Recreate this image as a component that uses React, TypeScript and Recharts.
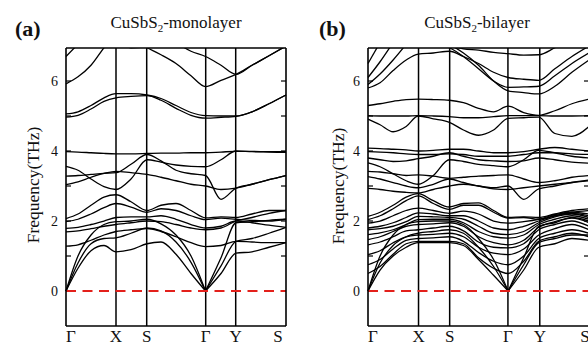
import React from 'react';
import { LineChart, Line, XAxis, YAxis, ReferenceLine } from 'recharts';

const N = null;

// Sampling positions along the Γ–X–S–Γ–Y–S path (one unit ≈ one pixel of path length)
const kGrid = [0, 12, 25, 38, 50, 65, 81, 95, 110, 125, 139.5, 155, 170, 186, 203, 220];

// High-symmetry points
const pathLabels = ['Γ', 'X', 'S', 'Γ', 'Y', 'S'];
const monolayerPathK = [0, 50, 80.7, 139.7, 169.7, 220];
const bilayerPathK = [0, 50.3, 81.3, 139.3, 171, 220];

// Frequency axis (THz)
const freqTicks = [0, 1, 2, 3, 4, 5, 6];
const freqBottom = -1;
const freqTop = 6.943;

// Phonon branches of the monolayer, sampled on kGrid (THz)
const monolayerBands: (number | null)[][] = [
  [0, 0.65, 1.15, 1.3, 1.12, 1.18, 1.35, 1.4, 1.05, 0.5, 0, 0.5, 1.08, 1.12, 1.25, 1.38],
  [0, 0.8, 1.35, 1.5, 1.52, 1.65, 1.8, 1.72, 1.4, 0.82, 0, 0.72, 1.42, 1.5, 1.65, 1.82],
  [0, 1.0, 1.6, 1.9, 1.98, 2.0, 2.05, 1.92, 1.6, 1.0, 0, 0.95, 1.95, 1.98, 2.02, 2.05],
  [1.28, 1.32, 1.45, 1.6, 1.7, 1.75, 1.78, 1.7, 1.55, 1.38, 1.27, 1.3, 1.42, 1.4, 1.38, 1.38],
  [1.69, 1.72, 1.78, 1.85, 1.9, 1.95, 2.0, 1.98, 1.9, 1.8, 1.75, 1.8, 2.0, 2.1, 2.22, 2.3],
  [1.79, 1.82, 1.9, 2.0, 2.1, 2.12, 2.12, 2.15, 2.05, 1.9, 1.8, 1.85, 2.0, 1.95, 1.88, 1.82],
  [1.98, 2.05, 2.2, 2.38, 2.5, 2.4, 2.25, 2.35, 2.3, 2.15, 2.04, 2.08, 2.05, 2.02, 2.0, 2.05],
  [2.07, 2.2, 2.45, 2.68, 2.75, 2.55, 2.3, 2.45, 2.5, 2.3, 2.09, 2.12, 2.1, 2.2, 2.3, 2.3],
  [3.04, 3.12, 3.25, 3.36, 3.42, 3.38, 3.33, 3.25, 3.15, 3.05, 3.0, 2.9, 2.94, 3.05, 3.18, 3.3],
  [3.28, 3.3, 3.33, 3.36, 3.38, 3.62, 3.9, 3.72, 3.45, 3.35, 3.3, 2.62, 2.94, 3.05, 3.18, 3.3],
  [3.56, 3.45, 3.2, 2.98, 2.9, 3.2, 3.75, 3.68, 3.6, 3.56, 3.55, 3.75, 4.0, 3.98, 3.97, 3.96],
  [3.98, 3.97, 3.95, 3.93, 3.92, 3.92, 3.93, 3.94, 3.94, 3.95, 3.95, 3.97, 3.99, 3.99, 3.98, 3.98],
  [4.97, 5.02, 5.2, 5.42, 5.52, 5.56, 5.58, 5.45, 5.22, 5.02, 4.94, 4.96, 4.99, 5.12, 5.35, 5.6],
  [5.06, 5.12, 5.3, 5.52, 5.64, 5.64, 5.6, 5.5, 5.3, 5.1, 5.01, 5.0, 5.0, 5.12, 5.35, 5.6],
  [5.92, 6.12, 6.45, 6.95, 7.35, N, N, N, N, N, N, N, N, N, N, N],
  [6.7, 7.05, 7.4, N, N, N, N, N, N, N, N, N, N, N, N, N],
  [N, N, N, N, 7.3, 6.95, 6.98, 7.3, N, N, N, N, N, N, N, N],
  [N, N, N, N, N, 7.2, 6.95, 6.75, 6.5, 6.15, 5.84, 6.02, 6.19, 6.45, 6.72, 7.0],
  [N, N, N, N, N, N, N, N, 7.1, 6.85, 6.7, 6.45, 6.19, 6.45, 6.72, 7.0],
];

// Phonon branches of the bilayer, sampled on kGrid (THz)
const bilayerBands: (number | null)[][] = [
  [0, 0.6, 1.0, 1.25, 1.38, 1.38, 1.38, 1.3, 0.9, 0.45, 0, 0.6, 1.25, 1.35, 1.5, 1.45],
  [0, 0.8, 1.3, 1.55, 1.65, 1.7, 1.75, 1.65, 1.25, 0.7, 0, 0.75, 1.38, 1.5, 1.6, 1.6],
  [0, 1.0, 1.6, 1.9, 1.98, 2.0, 2.0, 1.9, 1.5, 0.9, 0, 0.95, 1.85, 1.95, 2.1, 2.0],
  [0.5, 0.7, 1.05, 1.35, 1.42, 1.42, 1.42, 1.35, 0.95, 0.65, 0.5, 0.85, 1.42, 1.55, 1.65, 1.55],
  [0.75, 0.9, 1.2, 1.45, 1.5, 1.52, 1.55, 1.42, 1.1, 0.85, 0.75, 1.0, 1.5, 1.65, 1.75, 1.65],
  [1.04, 1.15, 1.38, 1.55, 1.6, 1.62, 1.65, 1.55, 1.25, 1.08, 1.04, 1.2, 1.6, 1.78, 1.9, 1.75],
  [1.32, 1.4, 1.55, 1.72, 1.75, 1.8, 1.85, 1.72, 1.4, 1.25, 1.23, 1.35, 1.75, 1.9, 2.0, 1.85],
  [1.47, 1.55, 1.7, 1.85, 1.9, 1.92, 1.95, 1.85, 1.55, 1.38, 1.32, 1.45, 1.82, 1.98, 2.08, 1.95],
  [1.61, 1.66, 1.75, 1.9, 2.04, 2.05, 2.05, 1.95, 1.7, 1.55, 1.51, 1.6, 1.9, 2.05, 2.15, 2.05],
  [1.75, 1.78, 1.85, 1.98, 2.13, 2.12, 2.1, 2.05, 1.85, 1.65, 1.61, 1.7, 1.95, 2.12, 2.2, 2.1],
  [1.8, 1.85, 1.95, 2.1, 2.23, 2.2, 2.15, 2.15, 2.0, 1.8, 1.75, 1.85, 2.0, 2.15, 2.22, 2.15],
  [1.94, 2.0, 2.15, 2.3, 2.37, 2.3, 2.22, 2.28, 2.2, 2.0, 1.94, 1.98, 2.05, 2.18, 2.25, 2.2],
  [2.04, 2.15, 2.35, 2.58, 2.72, 2.5, 2.33, 2.45, 2.45, 2.25, 2.08, 2.1, 2.05, 2.15, 2.25, 2.3],
  [2.13, 2.25, 2.45, 2.68, 2.78, 2.58, 2.4, 2.5, 2.52, 2.3, 2.1, 2.12, 2.1, 2.2, 2.3, 2.35],
  [2.93, 2.9, 2.85, 2.82, 2.8, 2.9, 3.0, 3.05, 3.0, 2.92, 2.9, 2.95, 3.0, 3.05, 3.1, 3.15],
  [3.27, 3.2, 3.1, 3.0, 2.95, 3.05, 3.2, 3.1, 3.0, 2.95, 3.0, 2.62, 2.92, 3.0, 3.1, 3.17],
  [3.42, 3.4, 3.35, 3.3, 3.32, 3.28, 3.22, 3.25, 3.28, 3.3, 3.32, 3.2, 3.1, 3.15, 3.25, 3.3],
  [3.66, 3.55, 3.35, 3.15, 3.05, 3.3, 3.75, 3.7, 3.62, 3.58, 3.55, 3.75, 4.02, 3.95, 3.85, 3.8],
  [3.8, 3.75, 3.7, 3.72, 3.78, 3.85, 3.95, 3.85, 3.75, 3.72, 3.7, 3.72, 3.8, 3.75, 3.68, 3.65],
  [3.98, 3.97, 3.95, 3.92, 3.9, 3.9, 3.92, 3.9, 3.85, 3.85, 3.85, 3.9, 3.95, 3.95, 3.92, 3.9],
  [4.08, 4.07, 4.05, 4.03, 4.0, 4.02, 4.05, 4.05, 4.0, 3.95, 3.95, 3.98, 4.05, 4.1, 4.05, 4.0],
  [4.91, 4.75, 4.55, 4.7, 5.0, 4.92, 4.82, 4.6, 4.45, 4.6, 4.93, 4.95, 4.97, 4.5, 4.42, 4.7],
  [5.01, 5.0, 5.0, 5.0, 5.01, 5.0, 4.98, 4.95, 4.95, 4.98, 5.01, 5.01, 5.01, 5.0, 5.0, 5.01],
  [5.3, 5.35, 5.42, 5.47, 5.48, 5.47, 5.45, 5.38, 5.22, 5.12, 5.28, 5.1, 5.02, 5.15, 5.35, 5.48],
  [5.8, 5.95, 6.3, 6.6, 6.77, 6.8, 6.85, 6.7, 6.5, 6.25, 6.1, 6.05, 6.02, 6.35, 6.7, 7.0],
  [5.9, 6.2, 6.6, 7.05, N, N, N, N, N, N, N, N, N, N, N, N],
  [6.1, 6.55, 7.1, N, N, N, N, N, N, N, N, N, N, N, N, N],
  [6.5, 7.1, N, N, N, N, N, N, N, N, N, N, N, N, N, N],
  [N, N, N, N, N, 7.1, 6.95, 6.7, 6.35, 6.0, 5.82, 5.83, 5.85, 6.15, 6.5, 6.8],
  [N, N, N, N, N, N, 7.05, 6.8, 6.45, 6.0, 5.72, 5.67, 5.63, 5.85, 6.25, 6.6],
  [N, N, N, N, N, N, 7.0, 6.92, 6.88, 6.82, 6.78, 6.74, 6.75, 6.95, 7.2, N],
];

type Pt = { k: number; f: number };

// Split a branch into drawable pieces: gaps at missing samples, and a break
// where an acoustic branch touches zero so the cusp stays sharp.
function branchSegments(band: (number | null)[]): Pt[][] {
  const segs: Pt[][] = [];
  let cur: Pt[] = [];
  band.forEach((f, i) => {
    if (f == null) {
      if (cur.length > 1) segs.push(cur);
      cur = [];
      return;
    }
    const p = { k: kGrid[i], f };
    cur.push(p);
    if (f === 0 && i > 0 && i < band.length - 1 && cur.length > 1) {
      segs.push(cur);
      cur = [p];
    }
  });
  if (cur.length > 1) segs.push(cur);
  return segs;
}

const SERIF = '"Liberation Serif", "Times New Roman", Times, serif';
const HEIGHT = 349;
const PLOT_TOP = 48;
const AXIS_H = 23;
const K_MAX = 220;

interface PanelProps {
  bands: (number | null)[][];
  pathK: number[];
  left: number;
  width: number;
  axisWidth: number;
  rightMargin: number;
  lastLabelDx: number;
}

function BandPanel({ bands, pathK, left, width, axisWidth, rightMargin, lastLabelDx }: PanelProps) {
  const segments = bands.flatMap((b) => branchSegments(b));
  const inner = pathK.slice(1, -1);
  return (
    <div style={{ position: 'absolute', left, top: 0, width, height: HEIGHT }}>
      <LineChart
        width={width}
        height={HEIGHT}
        margin={{ top: PLOT_TOP, right: rightMargin, bottom: 0, left: 0 }}
      >
        <XAxis
          type="number"
          dataKey="k"
          domain={[0, K_MAX]}
          ticks={pathK}
          interval={0}
          height={AXIS_H}
          axisLine={false}
          tickLine={false}
          tick={(p: any) => {
            const i = p.index;
            const dx = i === 0 ? 5 : i === pathLabels.length - 1 ? lastLabelDx : 0;
            return (
              <text
                x={p.x + dx}
                y={HEIGHT - 7}
                textAnchor="middle"
                fontFamily={SERIF}
                fontSize={17}
                fill="#111"
              >
                {pathLabels[i]}
              </text>
            );
          }}
        />
        <YAxis
          type="number"
          domain={[freqBottom, freqTop]}
          allowDataOverflow
          ticks={freqTicks}
          interval={0}
          width={axisWidth}
          axisLine={false}
          tickLine={false}
          tick={(p: any) =>
            p.payload.value % 2 === 0 ? (
              <text
                x={axisWidth - 8}
                y={p.y + 5}
                textAnchor="end"
                fontFamily={SERIF}
                fontSize={14}
                fill="#111"
              >
                {p.payload.value}
              </text>
            ) : (
              <g />
            )
          }
        />
        {segments.map((seg, i) => (
          <Line
            key={`b${i}`}
            data={seg}
            dataKey="f"
            type="monotone"
            stroke="#000"
            strokeWidth={1.3}
            dot={false}
            activeDot={false}
            isAnimationActive={false}
          />
        ))}
        {inner.map((k) => (
          <ReferenceLine key={`v${k}`} x={k} stroke="#000" strokeWidth={1.5} />
        ))}
        {freqTicks.flatMap((t) => [
          <ReferenceLine
            key={`tl${t}`}
            segment={[{ x: 0, y: t }, { x: 5, y: t }]}
            stroke="#000"
            strokeWidth={1.2}
          />,
          <ReferenceLine
            key={`tr${t}`}
            segment={[{ x: K_MAX - 5, y: t }, { x: K_MAX, y: t }]}
            stroke="#000"
            strokeWidth={1.2}
          />,
        ])}
        <ReferenceLine y={0} stroke="#e3201b" strokeWidth={2} strokeDasharray="10 6.5" />
        <ReferenceLine x={0} stroke="#000" strokeWidth={1.6} />
        <ReferenceLine x={K_MAX} stroke="#000" strokeWidth={1.6} />
        <ReferenceLine y={freqBottom} stroke="#000" strokeWidth={1.6} />
        <ReferenceLine y={freqTop} stroke="#000" strokeWidth={1.6} />
      </LineChart>
    </div>
  );
}

export default function App() {
  return (
    <div
      style={{
        position: 'fixed',
        left: 0,
        top: 0,
        width: 588,
        height: HEIGHT,
        overflow: 'hidden',
        background: '#fff',
      }}
    >
      <BandPanel
        bands={monolayerBands}
        pathK={monolayerPathK}
        left={0}
        width={294}
        axisWidth={66}
        rightMargin={8}
        lastLabelDx={-8}
      />
      <BandPanel
        bands={bilayerBands}
        pathK={bilayerPathK}
        left={294}
        width={300}
        axisWidth={74}
        rightMargin={5}
        lastLabelDx={-4}
      />
      <svg
        width={588}
        height={HEIGHT}
        style={{ position: 'absolute', left: 0, top: 0, pointerEvents: 'none' }}
        fontFamily={SERIF}
        fill="#111"
      >
        <text x={15} y={36} fontSize={22} fontWeight="bold">(a)</text>
        <text x={176} y={28} fontSize={17} textAnchor="middle">
          <tspan>CuSbS</tspan>
          <tspan fontSize={11} dy={4}>2</tspan>
          <tspan dy={-4}>-monolayer</tspan>
        </text>
        <text x={319} y={36} fontSize={22} fontWeight="bold">(b)</text>
        <text x={477} y={28} fontSize={17} textAnchor="middle">
          <tspan>CuSbS</tspan>
          <tspan fontSize={11} dy={4}>2</tspan>
          <tspan dy={-4}>-bilayer</tspan>
        </text>
        <text transform="translate(39,185) rotate(-90)" fontSize={17.5} textAnchor="middle">
          Frequency(THz)
        </text>
        <text transform="translate(344,186) rotate(-90)" fontSize={17.5} textAnchor="middle">
          Frequency(THz)
        </text>
      </svg>
    </div>
  );
}
